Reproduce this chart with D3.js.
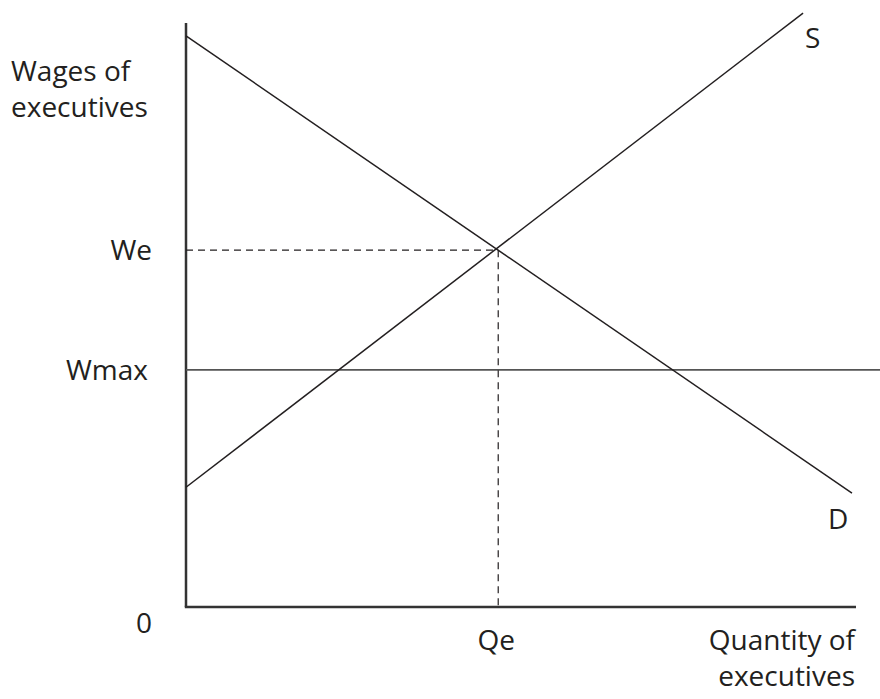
<!DOCTYPE html>
<html>
<head>
<meta charset="utf-8">
<script src="https://cdn.jsdelivr.net/npm/d3@7"></script>
<style>
  html, body { margin: 0; padding: 0; background: #fff; }
  svg text { font-family: "Open Sans", "Noto Sans", sans-serif; fill: #231f20; }
</style>
</head>
<body>
<svg id="chart" width="880" height="699"></svg>
<script>
// Data (abstract units, 0-100 on both axes)
const demand = [{q: 0, w: 97.8}, {q: 99.4, w: 19.5}];
const supply = [{q: 0, w: 20.5}, {q: 92.1, w: 101.7}];
const equilibrium = {q: 46.6, w: 61.1};
const wmax = 40.6;
const wmaxExtent = [0, 103.6];
const yTickLabels = ["We", "Wmax"];
const yTickValues = [61.1, 40.6];
const curveLabels = ["S", "D"];

const svg = d3.select("#chart");
const x = d3.scaleLinear().domain([0, 100]).range([186, 856]);
const y = d3.scaleLinear().domain([0, 100]).range([607, 23]);

const ink = "#231f20";

// Axes
svg.append("line").attr("x1", x(0)).attr("x2", x(0)).attr("y1", y(100)).attr("y2", y(0))
  .attr("stroke", "#333").attr("stroke-width", 2.5);
svg.append("line").attr("x1", x(0) - 1.2).attr("x2", x(100)).attr("y1", y(0)).attr("y2", y(0))
  .attr("stroke", "#333").attr("stroke-width", 2.5);

// Wmax line
svg.append("line").attr("x1", x(wmaxExtent[0])).attr("x2", x(wmaxExtent[1]))
  .attr("y1", y(wmax)).attr("y2", y(wmax))
  .attr("stroke", "#555").attr("stroke-width", 1.8);

// Dashed equilibrium guides
svg.append("line").attr("x1", x(0)).attr("x2", x(equilibrium.q))
  .attr("y1", y(equilibrium.w)).attr("y2", y(equilibrium.w))
  .attr("stroke", ink).attr("stroke-width", 1.2).attr("stroke-dasharray", "7,5");
svg.append("line").attr("x1", x(equilibrium.q)).attr("x2", x(equilibrium.q))
  .attr("y1", y(equilibrium.w)).attr("y2", y(0))
  .attr("stroke", ink).attr("stroke-width", 1.2).attr("stroke-dasharray", "7,5");

// Curves
const line = d3.line().x(d => x(d.q)).y(d => y(d.w));
[demand, supply].forEach(data => {
  svg.append("path").datum(data).attr("d", line)
    .attr("fill", "none").attr("stroke", ink).attr("stroke-width", 1.5);
});

const fs = 28;
// Y-axis tick labels
const tickOffsets = [34, 38];
yTickLabels.forEach((t, i) => {
  svg.append("text").attr("x", x(0) - tickOffsets[i]).attr("y", y(yTickValues[i])).attr("dy", "0.35em")
    .attr("text-anchor", "end").attr("font-size", fs).text(t);
});
// Origin
svg.append("text").attr("x", x(0) - 42).attr("y", y(0) + 26)
  .attr("text-anchor", "middle").attr("font-size", fs).text("0");
// Qe
svg.append("text").attr("x", x(equilibrium.q) - 2).attr("y", y(0) + 43)
  .attr("text-anchor", "middle").attr("font-size", fs).text("Qe");

// Axis titles
const yTitle = svg.append("text").attr("font-size", fs);
yTitle.append("tspan").attr("x", 11).attr("y", 81).text("Wages of");
yTitle.append("tspan").attr("x", 11).attr("y", 117).text("executives");

const xTitle = svg.append("text").attr("text-anchor", "end").attr("font-size", fs);
xTitle.append("tspan").attr("x", 855).attr("y", 650).text("Quantity of");
xTitle.append("tspan").attr("x", 855).attr("y", 686).text("executives");

// Curve labels
const sEnd = supply[supply.length - 1], dEnd = demand[demand.length - 1];
svg.append("text").attr("x", x(sEnd.q) + 2).attr("y", y(sEnd.w) + 35)
  .attr("font-size", fs).text(curveLabels[0]);
svg.append("text").attr("x", x(dEnd.q) - 24).attr("y", y(dEnd.w) + 36)
  .attr("font-size", fs).text(curveLabels[1]);
</script>
</body>
</html>
